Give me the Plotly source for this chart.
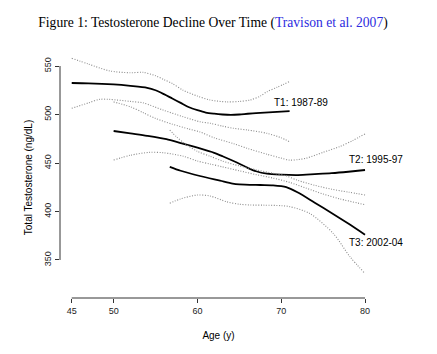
import plotly.graph_objects as go

# ---- data ----
t1_age = [45, 47, 50, 52, 54, 55, 56, 57, 58, 59, 60, 61, 62, 63, 64, 65, 66, 67, 68, 69, 70, 71]
t1_mid = [532.5, 532.2, 531, 529.5, 527.5, 525, 521, 516.5, 512, 507.5, 504.5, 502, 500.8, 500, 499.6, 500, 500.8, 501.5, 502, 502.5, 503, 503.5]
t1_upr_age = [45, 47, 49.5, 52, 53.5, 55, 56, 57, 58.3, 60, 61.5, 63.5, 65, 66.3, 67.5, 68.3, 69.5, 71]
t1_upr = [558, 552, 545, 543, 543.5, 540, 536, 532, 525, 519, 515, 513, 513.5, 515, 519, 523.5, 528, 534]
t1_lwr_age = [45, 47, 48.3, 49.5, 52, 53.5, 55.9, 58.3, 60.3, 61.5, 63, 64.3, 66, 68.3, 70, 71]
t1_lwr = [506.4, 512, 515.6, 515.6, 513.5, 512, 504.6, 497.7, 492.5, 491, 488, 485.8, 484, 480.6, 476, 472]

t2_age = [50, 52, 54, 56.3, 58, 60.3, 62, 63, 64.7, 66, 67, 68.3, 70, 72, 74, 76, 78, 80]
t2_mid = [483, 480.5, 478, 474.5, 470.5, 465, 460.5, 457, 450.5, 445, 441.5, 439, 438, 437.6, 438.5, 439.5, 441, 442.8]
t2_upr_age = [50, 52, 53.5, 55, 57, 59, 60.3, 62, 64.3, 66, 68.3, 70, 71, 72, 73, 75, 77, 78.5, 80]
t2_upr = [513, 508, 502, 496, 490, 485, 482, 476, 470, 465, 459, 455, 453, 453.5, 455, 461, 467, 473, 480]
t2_lwr_age = [50, 52, 54.3, 56, 58.3, 60, 61.5, 63, 65, 67, 69, 71, 73, 75, 77, 80]
t2_lwr = [453, 458, 461, 460.5, 457, 452, 449, 446, 442, 438, 434.5, 430, 424, 418, 413, 407]

t3_age = [56.7, 58, 60.3, 62.7, 64.2, 65, 67.5, 69, 70.6, 72, 74, 76, 78, 80]
t3_mid = [446, 442, 436.6, 431.8, 428.8, 428, 427.3, 427, 425.2, 419.5, 409, 398.5, 387.5, 376]
t3_upr_age = [56.7, 57.5, 58.5, 60, 61.5, 63, 65, 67, 69, 70.5, 72, 74, 76, 78, 80]
t3_upr = [484, 477, 470, 462, 457, 452, 447, 443, 439.5, 437, 432, 427, 423, 420, 417]
t3_lwr_age = [56.7, 58, 60, 61.5, 63.5, 65, 66.3, 68, 70, 71, 73.4, 76.2, 78.2, 80]
t3_lwr = [408.5, 413, 417, 416, 410, 407.5, 406.7, 406.5, 406, 405, 398, 377.5, 353.4, 336]

labels = ["T1: 1987-89", "T2: 1995-97", "T3: 2002-04"]
label_x = [68.9, 77.8, 77.8]
label_y = [512.6, 453.1, 368.2]

x_ticks = [45, 50, 60, 70, 80]
y_ticks = [350, 400, 450, 500, 550]

FONT = "Liberation Sans, Arial, Helvetica, sans-serif"

fig = go.Figure()

def add_line(x, y, dotted=False):
    fig.add_trace(go.Scatter(
        x=x, y=y, mode="lines",
        line=dict(color="#8c8c8c" if dotted else "black",
                  width=1.1 if dotted else 1.8,
                  dash="1px,1.6px" if dotted else "solid",
                  shape="spline", smoothing=0.8),
        hoverinfo="skip", showlegend=False))

for a, m, ua, u, la, l in [
    (t1_age, t1_mid, t1_upr_age, t1_upr, t1_lwr_age, t1_lwr),
    (t2_age, t2_mid, t2_upr_age, t2_upr, t2_lwr_age, t2_lwr),
    (t3_age, t3_mid, t3_upr_age, t3_upr, t3_lwr_age, t3_lwr),
]:
    add_line(ua, u, dotted=True)
    add_line(la, l, dotted=True)
    add_line(a, m)

for txt, lx, ly in zip(labels, label_x, label_y):
    fig.add_annotation(x=lx, y=ly, text=txt, showarrow=False, xanchor="left",
                       yanchor="middle", font=dict(family=FONT, size=10, color="black"))

# R-style axis lines spanning only the tick range
fig.add_shape(type="line", xref="x", yref="paper", x0=x_ticks[0], x1=x_ticks[-1], y0=0, y1=0,
              line=dict(color="#333333", width=1))
fig.add_shape(type="line", xref="paper", yref="y", x0=0, x1=0, y0=y_ticks[0], y1=y_ticks[-1],
              line=dict(color="#333333", width=1))

fig.update_layout(
    width=437, height=354,
    margin=dict(l=60, r=60, t=57, b=56),
    paper_bgcolor="white", plot_bgcolor="white",
    title=dict(
        text='Figure 1: Testosterone Decline Over Time (<span style="color:#2b2be0">Travison et al. 2007</span>)',
        font=dict(family="Liberation Serif, Times New Roman, serif", size=13.6, color="black"),
        x=213/437, xanchor="center", xref="container",
        y=1 - 22/354, yanchor="middle", yref="container"),
    xaxis=dict(range=[43.6, 81.43], tickvals=x_ticks, ticks="outside", ticklen=4,
               tickcolor="#333333", showgrid=False, zeroline=False, showline=False,
               tickfont=dict(family=FONT, size=9, color="#222222"),
               title=dict(text="Age (y)", font=dict(family=FONT, size=10, color="black"), standoff=17)),
    yaxis=dict(range=[310.8, 559.3], tickvals=y_ticks, ticks="outside", ticklen=4,
               tickcolor="#333333", showgrid=False, zeroline=False, showline=False,
               tickangle=-90,
               tickfont=dict(family=FONT, size=9, color="#222222"),
               title=dict(text="Total Testosterone (ng/dL)", font=dict(family=FONT, size=10, color="black"), standoff=8)),
)

fig.write_html("out.html")
